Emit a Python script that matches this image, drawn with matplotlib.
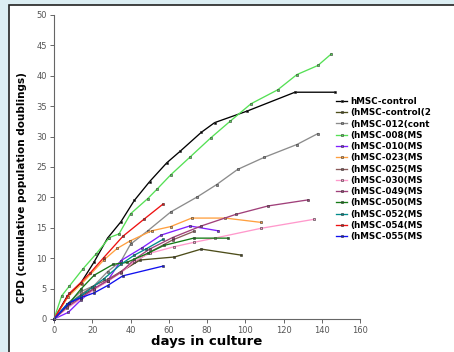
import numpy as np
import matplotlib
matplotlib.use("Agg")
from matplotlib import pyplot as plt
from matplotlib.patches import Rectangle

# series data (days, cumulative population doublings)
ctrl_days = [0, 7, 14, 21, 28, 35, 42, 50, 59, 66, 77, 84, 101, 126, 147]
ctrl_cpd = [0, 3.8, 5.9, 9.4, 13.3, 16.0, 19.5, 22.6, 25.7, 27.6, 30.7, 32.3, 34.2, 37.3, 37.3]
ctrl2_days = [0, 7, 14, 21, 28, 35, 45, 63, 77, 98]
ctrl2_cpd = [0, 2.2, 3.8, 5.0, 6.2, 7.8, 9.7, 10.2, 11.5, 10.5]
m012_days = [0, 7, 14, 21, 28, 35, 40, 49, 61, 75, 85, 96, 110, 127, 138]
m012_cpd = [0, 2.5, 4.5, 5.5, 7.8, 9.5, 12.3, 14.5, 17.6, 20.1, 22.1, 24.6, 26.6, 28.7, 30.5]
m008_days = [0, 4, 8, 15, 22, 29, 34, 40, 49, 54, 61, 71, 82, 92, 103, 117, 127, 138, 145]
m008_cpd = [0, 3.8, 5.4, 8.2, 10.7, 13.4, 14.0, 17.3, 19.8, 21.4, 23.7, 26.6, 29.8, 32.5, 35.4, 37.7, 40.2, 41.7, 43.6]
m010_days = [0, 7.5, 14, 21, 28, 35, 46, 56, 71, 86]
m010_cpd = [0, 1.1, 3.1, 5.0, 6.3, 9.6, 11.7, 13.8, 15.3, 14.5]
m023_days = [0, 7.5, 14.5, 26, 33, 39.5, 51, 61, 72, 89.5, 108]
m023_cpd = [0, 3.7, 5.8, 9.7, 11.6, 12.8, 14.5, 15.2, 16.6, 16.6, 15.9]
m025_days = [0, 7, 14, 21, 28, 35, 42, 50, 62, 73]
m025_cpd = [0, 2.3, 4.0, 5.5, 6.5, 7.8, 9.3, 11.0, 13.0, 14.4]
m030_days = [0, 7, 14, 21, 28, 35, 42, 50, 63, 73, 84, 108, 136]
m030_cpd = [0, 1.8, 3.3, 4.8, 6.2, 7.6, 9.5, 10.8, 11.9, 12.6, 13.3, 14.9, 16.4]
m049_days = [0, 7, 14, 21, 28, 35, 42, 50, 62, 77, 95, 112, 133]
m049_cpd = [0, 2.0, 3.5, 5.0, 6.3, 7.7, 9.8, 11.5, 13.4, 15.3, 17.2, 18.6, 19.6]
m050_days = [0, 8, 14, 21, 31, 38, 49, 57.5, 73, 91]
m050_cpd = [0, 2.6, 4.9, 7.2, 9.0, 9.3, 10.8, 12.1, 13.3, 13.3]
m052_days = [0, 7, 14, 20, 26, 35, 42, 48, 57]
m052_cpd = [0, 2.5, 3.8, 5.2, 6.6, 9.0, 10.5, 11.5, 13.1]
m054_days = [0, 8, 14, 19, 26, 36, 47, 57]
m054_cpd = [0, 4.2, 6.0, 7.6, 10.1, 13.6, 16.4, 18.9]
m055_days = [0, 8, 14, 21, 28, 36, 57]
m055_cpd = [0, 2.7, 3.5, 4.3, 5.5, 7.1, 8.7]

labels = ["hMSC-control", "(hMSC-control(2", "(hMSC-012(cont", "(hMSC-008(MS",
          "(hMSC-010(MS", "(hMSC-023(MS", "(hMSC-025(MS", "(hMSC-030(MS",
          "(hMSC-049(MS", "(hMSC-050(MS", "(hMSC-052(MS", "(hMSC-054(MS",
          "(hMSC-055(MS"]
colors = ["#000000", "#4d4d1a", "#8c8c8c", "#55e055", "#7f1fff", "#ffa040",
          "#8b5a5a", "#ff99cc", "#a0407a", "#157a15", "#008b8b", "#ee1111",
          "#1010ee"]
series = [(ctrl_days, ctrl_cpd), (ctrl2_days, ctrl2_cpd), (m012_days, m012_cpd),
          (m008_days, m008_cpd), (m010_days, m010_cpd), (m023_days, m023_cpd),
          (m025_days, m025_cpd), (m030_days, m030_cpd), (m049_days, m049_cpd),
          (m050_days, m050_cpd), (m052_days, m052_cpd), (m054_days, m054_cpd),
          (m055_days, m055_cpd)]

W, H = 454, 352
fig = plt.figure(figsize=(W / 100, H / 100), dpi=100)
fig.patch.set_facecolor("#dceef3")

# background: white panel with dark border on left and top
bg = fig.add_axes([0, 0, 1, 1], zorder=-10)
bg.set_xlim(0, W)
bg.set_ylim(H, 0)
bg.axis("off")
bg.add_patch(Rectangle((8.5, 4.5), W, H, facecolor="white", edgecolor="#222222", lw=1.2))

ax = fig.add_axes([54 / W, 33 / H, 306 / W, 304 / H], zorder=1)
ax.set_facecolor("none")

handles = []
for (d, c), col, lab in zip(series, colors, labels):
    h, = ax.plot(d, c, color=col, lw=0.95, marker="s", ms=2.0,
                 mfc=col, mec="#333333", mew=0.4, label=lab, clip_on=False)
    handles.append(h)

ax.set_xlim(0, 160)
ax.set_ylim(0, 50)
ax.set_xticks(np.arange(0, 161, 20))
ax.set_yticks(np.arange(0, 51, 5))
for s in ["top", "right"]:
    ax.spines[s].set_visible(False)
for s in ["left", "bottom"]:
    ax.spines[s].set_color("#666666")
    ax.spines[s].set_linewidth(0.8)
ax.tick_params(direction="out", length=3, width=0.7, color="#666666",
               labelsize=6, labelcolor="#555555", pad=2)

ax.set_xlabel("days in culture", fontsize=9.5, fontweight="bold", labelpad=0)
ax.set_ylabel("CPD (cumulative population doublings)", fontsize=7.5,
              fontweight="bold")
ax.yaxis.set_label_coords(-0.087, 0.434)

fig.legend(handles=handles, labels=labels, loc="upper left",
           bbox_to_anchor=(336 / W, 1 - 97 / H), frameon=False,
           prop={"size": 6.3, "weight": "bold"}, handlelength=1.3,
           handletextpad=0.3, labelspacing=0.26, borderaxespad=0, borderpad=0)

fig.savefig("out.png", dpi=100, facecolor=fig.get_facecolor())
